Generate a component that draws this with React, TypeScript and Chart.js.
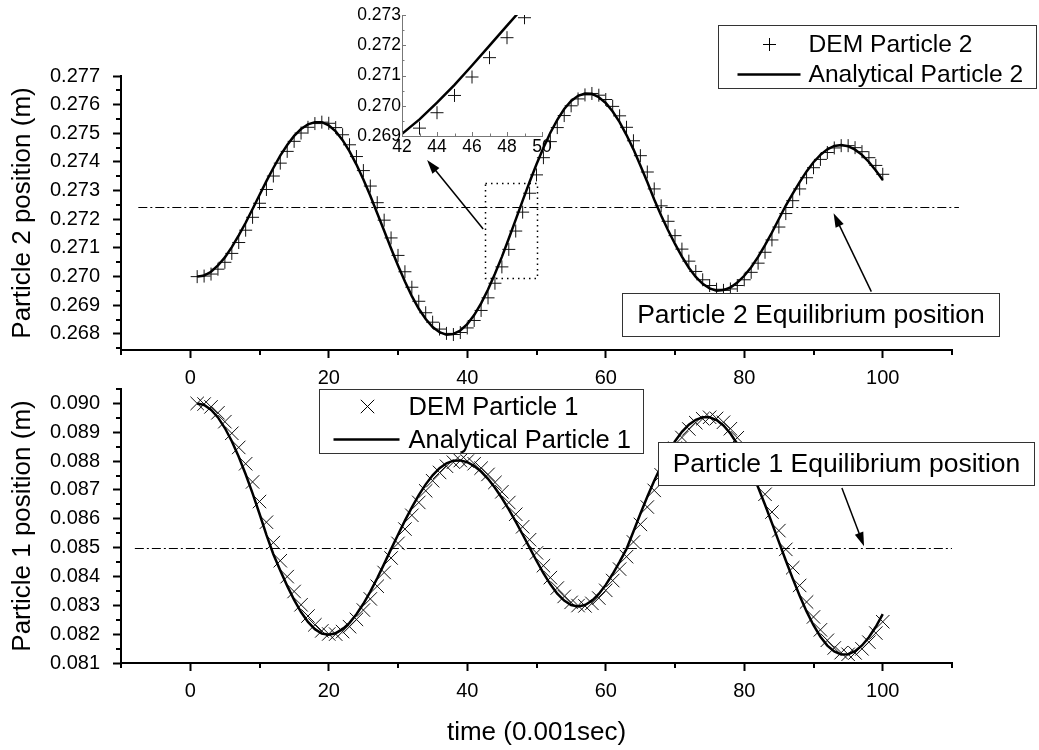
import React, { useEffect, useRef } from "react";
import { Chart, registerables } from "chart.js";

Chart.register(...registerables);

const FONT = "'Liberation Sans', Arial, Helvetica, sans-serif";

// ---------------- data ----------------
const time = [
  1, 2, 3, 4, 5, 6, 7, 8, 9, 10, 11, 12, 13, 14, 15, 16, 17, 18, 19, 20,
  21, 22, 23, 24, 25, 26, 27, 28, 29, 30, 31, 32, 33, 34, 35, 36, 37, 38, 39, 40,
  41, 42, 43, 44, 45, 46, 47, 48, 49, 50, 51, 52, 53, 54, 55, 56, 57, 58, 59, 60,
  61, 62, 63, 64, 65, 66, 67, 68, 69, 70, 71, 72, 73, 74, 75, 76, 77, 78, 79, 80,
  81, 82, 83, 84, 85, 86, 87, 88, 89, 90, 91, 92, 93, 94, 95, 96, 97, 98, 99, 100,
];

const p2Analytical = [
  0.27000, 0.27004, 0.27017, 0.27039, 0.27067, 0.27103, 0.27144, 0.27188, 0.27236, 0.27285,
  0.27333, 0.27379, 0.27422, 0.27459, 0.27491, 0.27515, 0.27531, 0.27539, 0.27539, 0.27528,
  0.27507, 0.27476, 0.27437, 0.27391, 0.27339, 0.27282, 0.27221, 0.27160, 0.27098, 0.27039,
  0.26983, 0.26932, 0.26888, 0.26852, 0.26824, 0.26806, 0.26797, 0.26800, 0.26812, 0.26834,
  0.26866, 0.26907, 0.26955, 0.27010, 0.27069, 0.27133, 0.27199, 0.27265, 0.27330, 0.27392,
  0.27450, 0.27502, 0.27547, 0.27585, 0.27613, 0.27631, 0.27639, 0.27638, 0.27626, 0.27606,
  0.27576, 0.27539, 0.27494, 0.27444, 0.27388, 0.27330, 0.27269, 0.27213, 0.27162, 0.27114,
  0.27070, 0.27031, 0.26999, 0.26975, 0.26959, 0.26951, 0.26953, 0.26962, 0.26979, 0.27003,
  0.27033, 0.27069, 0.27110, 0.27154, 0.27201, 0.27248, 0.27290, 0.27330, 0.27367, 0.27399,
  0.27425, 0.27444, 0.27456, 0.27459, 0.27455, 0.27443, 0.27425, 0.27400, 0.27370, 0.27337,
];

const p2DEM = [
  0.27000, 0.27002, 0.27009, 0.27026, 0.27050, 0.27081, 0.27119, 0.27162, 0.27207, 0.27256,
  0.27304, 0.27351, 0.27396, 0.27437, 0.27472, 0.27501, 0.27521, 0.27534, 0.27539, 0.27535,
  0.27520, 0.27495, 0.27460, 0.27419, 0.27370, 0.27316, 0.27258, 0.27197, 0.27135, 0.27074,
  0.27017, 0.26963, 0.26914, 0.26874, 0.26841, 0.26817, 0.26802, 0.26798, 0.26805, 0.26821,
  0.26847, 0.26882, 0.26926, 0.26977, 0.27034, 0.27095, 0.27159, 0.27225, 0.27291, 0.27355,
  0.27415, 0.27471, 0.27520, 0.27562, 0.27596, 0.27620, 0.27634, 0.27639, 0.27633, 0.27618,
  0.27594, 0.27561, 0.27521, 0.27474, 0.27422, 0.27365, 0.27306, 0.27247, 0.27193, 0.27143,
  0.27096, 0.27054, 0.27018, 0.26989, 0.26969, 0.26956, 0.26952, 0.26957, 0.26969, 0.26989,
  0.27015, 0.27047, 0.27085, 0.27128, 0.27173, 0.27220, 0.27265, 0.27306, 0.27345, 0.27380,
  0.27409, 0.27433, 0.27449, 0.27457, 0.27457, 0.27450, 0.27436, 0.27415, 0.27388, 0.27357,
];

const p1Analytical = [
  0.090000, 0.089945, 0.089782, 0.089514, 0.089147, 0.088689, 0.088151, 0.087543, 0.086880, 0.086174,
  0.085444, 0.084771, 0.084209, 0.083675, 0.083188, 0.082766, 0.082424, 0.082173, 0.082024, 0.081980,
  0.082033, 0.082172, 0.082393, 0.082690, 0.083054, 0.083475, 0.083940, 0.084436, 0.084948, 0.085449,
  0.085936, 0.086398, 0.086821, 0.087194, 0.087509, 0.087754, 0.087925, 0.088015, 0.088025, 0.087962,
  0.087833, 0.087639, 0.087386, 0.087077, 0.086721, 0.086327, 0.085901, 0.085456, 0.085000, 0.084546,
  0.084115, 0.083728, 0.083405, 0.083162, 0.083011, 0.082960, 0.083010, 0.083156, 0.083393, 0.083708,
  0.084086, 0.084509, 0.084955, 0.085560, 0.086172, 0.086762, 0.087319, 0.087831, 0.088290, 0.088687,
  0.089014, 0.089264, 0.089434, 0.089519, 0.089518, 0.089423, 0.089234, 0.088956, 0.088594, 0.088156,
  0.087651, 0.087092, 0.086487, 0.085851, 0.085198, 0.084553, 0.083927, 0.083333, 0.082788, 0.082310,
  0.081911, 0.081604, 0.081398, 0.081299, 0.081307, 0.081412, 0.081609, 0.081893, 0.082257, 0.082692,
];

const p1DEM = [
  0.090000, 0.089978, 0.089880, 0.089675, 0.089367, 0.088964, 0.088474, 0.087908, 0.087278, 0.086598,
  0.085882, 0.085175, 0.084546, 0.083995, 0.083480, 0.083019, 0.082629, 0.082324, 0.082113, 0.082006,
  0.082001, 0.082089, 0.082260, 0.082512, 0.082836, 0.083222, 0.083661, 0.084138, 0.084641, 0.085148,
  0.085644, 0.086121, 0.086567, 0.086970, 0.087320, 0.087607, 0.087822, 0.087961, 0.088019, 0.088000,
  0.087910, 0.087755, 0.087538, 0.087262, 0.086935, 0.086563, 0.086157, 0.085723, 0.085274, 0.084818,
  0.084374, 0.083960, 0.083599, 0.083308, 0.083102, 0.082991, 0.082980, 0.083068, 0.083251, 0.083519,
  0.083859, 0.084255, 0.084687, 0.085197, 0.085805, 0.086408, 0.086985, 0.087524, 0.088015, 0.088449,
  0.088818, 0.089114, 0.089332, 0.089468, 0.089519, 0.089480, 0.089347, 0.089123, 0.088811, 0.088419,
  0.087954, 0.087427, 0.086850, 0.086233, 0.085590, 0.084940, 0.084303, 0.083689, 0.083115, 0.082597,
  0.082150, 0.081788, 0.081522, 0.081358, 0.081302, 0.081349, 0.081491, 0.081723, 0.082039, 0.082431,
];

// equilibrium positions
const p2Equilibrium = 0.27244;
const p1Equilibrium = 0.085;

// ticks
const xTicks = [0, 20, 40, 60, 80, 100];
const xMinorTicks = [-10, 10, 30, 50, 70, 90, 110];
const p2YTicks = [0.268, 0.269, 0.27, 0.271, 0.272, 0.273, 0.274, 0.275, 0.276, 0.277];
const p2YMinorTicks = [0.2675, 0.2685, 0.2695, 0.2705, 0.2715, 0.2725, 0.2735, 0.2745, 0.2755, 0.2765];
const p1YTicks = [0.081, 0.082, 0.083, 0.084, 0.085, 0.086, 0.087, 0.088, 0.089, 0.09];
const p1YMinorTicks = [0.0815, 0.0825, 0.0835, 0.0845, 0.0855, 0.0865, 0.0875, 0.0885, 0.0895, 0.0905];
const insetXTicks = [42, 44, 46, 48, 50];
const insetXMinorTicks = [43, 45, 47, 49];
const insetYTicks = [0.269, 0.27, 0.271, 0.272, 0.273];
const insetYMinorTicks = [0.2695, 0.2705, 0.2715, 0.2725];

// ---------------- helpers ----------------
type Pt = { x: number; y: number };
const pts = (xs: number[], ys: number[]): Pt[] => xs.map((x, i) => ({ x, y: ys[i] }));

function drawArrow(ctx: CanvasRenderingContext2D, x0: number, y0: number, x1: number, y1: number) {
  const a = Math.atan2(y1 - y0, x1 - x0);
  const L = 14;
  const W = 4.5;
  ctx.beginPath();
  ctx.moveTo(x0, y0);
  ctx.lineTo(x1 - (L - 2) * Math.cos(a), y1 - (L - 2) * Math.sin(a));
  ctx.stroke();
  ctx.beginPath();
  ctx.moveTo(x1, y1);
  ctx.lineTo(x1 - L * Math.cos(a) + W * Math.sin(a), y1 - L * Math.sin(a) - W * Math.cos(a));
  ctx.lineTo(x1 - L * Math.cos(a) - W * Math.sin(a), y1 - L * Math.sin(a) + W * Math.cos(a));
  ctx.closePath();
  ctx.fill();
}

function drawSymbol(ctx: CanvasRenderingContext2D, kind: string, cx: number, cy: number, r: number) {
  ctx.beginPath();
  if (kind === "cross") {
    ctx.moveTo(cx - r, cy);
    ctx.lineTo(cx + r, cy);
    ctx.moveTo(cx, cy - r);
    ctx.lineTo(cx, cy + r);
  } else {
    const d = r * Math.SQRT1_2;
    ctx.moveTo(cx - d, cy - d);
    ctx.lineTo(cx + d, cy + d);
    ctx.moveTo(cx - d, cy + d);
    ctx.lineTo(cx + d, cy - d);
  }
  ctx.stroke();
}

type Deco = {
  xMinor: number[];
  yMinor: number[];
  minorLen: number;
  minorWidth: number;
  minorColor: string;
  inward?: boolean;
  majorInward?: { x: number[]; y: number[]; len: number };
  eq?: { value: number; from: number; to: number };
  rects?: { x0: number; x1: number; y0: number; y1: number }[];
  arrows?: { x0: number; y0: number; x1: number; y1: number }[];
  boxes?: { x0: number; x1: number; y0: number; y1: number; text: string; size: number }[];
  legend?: {
    x0: number; x1: number; y0: number; y1: number; size: number; symbol: string; r: number;
    symX: number; lineX0: number; lineX1: number; textX: number; row1: number; row2: number;
    labels: string[];
  };
};

function decoPlugin(d: Deco) {
  return {
    id: "deco",
    afterDatasetsDraw(chart: any) {
      const { ctx, chartArea } = chart;
      const xs = chart.scales.x;
      const ys = chart.scales.y;
      const X = (v: number) => xs.getPixelForValue(v);
      const Y = (v: number) => ys.getPixelForValue(v);
      ctx.save();
      // minor ticks
      ctx.strokeStyle = d.minorColor;
      ctx.lineWidth = d.minorWidth;
      ctx.setLineDash([]);
      ctx.beginPath();
      d.xMinor.forEach((v) => {
        const p = Math.round(X(v));
        if (d.inward) {
          ctx.moveTo(p + 0.5, chartArea.bottom);
          ctx.lineTo(p + 0.5, chartArea.bottom - d.minorLen);
        } else {
          ctx.moveTo(p, chartArea.bottom);
          ctx.lineTo(p, chartArea.bottom + d.minorLen);
        }
      });
      d.yMinor.forEach((v) => {
        const p = Math.round(Y(v));
        if (d.inward) {
          ctx.moveTo(chartArea.left, p + 0.5);
          ctx.lineTo(chartArea.left + d.minorLen, p + 0.5);
        } else {
          ctx.moveTo(chartArea.left, p);
          ctx.lineTo(chartArea.left - d.minorLen, p);
        }
      });
      if (d.majorInward) {
        const m = d.majorInward;
        m.x.forEach((v) => {
          const p = Math.round(X(v));
          ctx.moveTo(p + 0.5, chartArea.bottom);
          ctx.lineTo(p + 0.5, chartArea.bottom - m.len);
        });
        m.y.forEach((v) => {
          const p = Math.round(Y(v));
          ctx.moveTo(chartArea.left, p + 0.5);
          ctx.lineTo(chartArea.left + m.len, p + 0.5);
        });
      }
      ctx.stroke();

      ctx.strokeStyle = "#000";
      ctx.fillStyle = "#000";
      // equilibrium line
      if (d.eq) {
        ctx.lineWidth = 1;
        ctx.setLineDash([9, 3, 2, 3]);
        const py = Math.round(Y(d.eq.value)) + 0.5;
        ctx.beginPath();
        ctx.moveTo(X(d.eq.from), py);
        ctx.lineTo(X(d.eq.to), py);
        ctx.stroke();
      }
      // dotted rectangles
      (d.rects || []).forEach((r) => {
        ctx.lineWidth = 1.5;
        ctx.setLineDash([1.5, 4]);
        const x0 = Math.round(X(r.x0)) + 0.5;
        const x1 = Math.round(X(r.x1)) + 0.5;
        const y0 = Math.round(Y(r.y1)) + 0.5;
        const y1 = Math.round(Y(r.y0)) + 0.5;
        ctx.strokeRect(x0, y0, x1 - x0, y1 - y0);
      });
      ctx.setLineDash([]);
      // arrows
      (d.arrows || []).forEach((a) => {
        ctx.lineWidth = 1.5;
        drawArrow(ctx, X(a.x0), Y(a.y0), X(a.x1), Y(a.y1));
      });
      // text boxes
      (d.boxes || []).forEach((b) => {
        const x0 = Math.round(X(b.x0)) + 0.5;
        const x1 = Math.round(X(b.x1)) + 0.5;
        const y0 = Math.round(Y(b.y0)) + 0.5;
        const y1 = Math.round(Y(b.y1)) + 0.5;
        ctx.fillStyle = "#fff";
        ctx.fillRect(x0, y0, x1 - x0, y1 - y0);
        ctx.strokeStyle = "#333";
        ctx.lineWidth = 1;
        ctx.strokeRect(x0, y0, x1 - x0, y1 - y0);
        ctx.fillStyle = "#000";
        ctx.font = `${b.size}px ${FONT}`;
        ctx.textAlign = "center";
        ctx.textBaseline = "middle";
        ctx.fillText(b.text, (x0 + x1) / 2, (y0 + y1) / 2 + 1);
      });
      // legend
      if (d.legend) {
        const l = d.legend;
        const x0 = Math.round(X(l.x0)) + 0.5;
        const x1 = Math.round(X(l.x1)) + 0.5;
        const y0 = Math.round(Y(l.y0)) + 0.5;
        const y1 = Math.round(Y(l.y1)) + 0.5;
        ctx.fillStyle = "#fff";
        ctx.fillRect(x0, y0, x1 - x0, y1 - y0);
        ctx.strokeStyle = "#333";
        ctx.lineWidth = 1;
        ctx.strokeRect(x0, y0, x1 - x0, y1 - y0);
        ctx.strokeStyle = "#000";
        ctx.lineWidth = 1;
        drawSymbol(ctx, l.symbol, x0 + l.symX, y0 + l.row1, l.r);
        ctx.lineWidth = 2.5;
        ctx.beginPath();
        ctx.moveTo(x0 + l.lineX0, y0 + l.row2);
        ctx.lineTo(x0 + l.lineX1, y0 + l.row2);
        ctx.stroke();
        ctx.fillStyle = "#000";
        ctx.font = `${l.size}px ${FONT}`;
        ctx.textAlign = "left";
        ctx.textBaseline = "middle";
        ctx.fillText(l.labels[0], x0 + l.textX, y0 + l.row1 + 1);
        ctx.fillText(l.labels[1], x0 + l.textX, y0 + l.row2 + 1);
      }
      ctx.restore();
    },
  };
}

function mainScales(opts: {
  yMin: number; yMax: number; yTicks: number[]; yTitle: string;
  xHeight: number; xTitle?: string;
}) {
  return {
    x: {
      type: "linear",
      min: -10,
      max: 110,
      afterBuildTicks: (s: any) => { s.ticks = xTicks.map((v) => ({ value: v })); },
      afterFit: (s: any) => { s.height = opts.xHeight; },
      grid: { display: true, drawOnChartArea: false, drawTicks: true, tickLength: 8, tickWidth: 2, tickColor: "#000" },
      border: { display: true, color: "#000", width: 2 },
      ticks: { color: "#000", font: { family: FONT, size: 20 }, padding: 8, maxRotation: 0, autoSkip: false,
        callback: (v: any) => String(v) },
      title: opts.xTitle
        ? { display: true, text: opts.xTitle, color: "#000", font: { family: FONT, size: 26 }, padding: { top: 0, bottom: 2 } }
        : { display: false },
    },
    y: {
      type: "linear",
      min: opts.yMin,
      max: opts.yMax,
      afterBuildTicks: (s: any) => { s.ticks = opts.yTicks.map((v) => ({ value: v })); },
      afterFit: (s: any) => { s.width = 121; },
      grid: { display: true, drawOnChartArea: false, drawTicks: true, tickLength: 8, tickWidth: 2, tickColor: "#000" },
      border: { display: true, color: "#000", width: 2 },
      ticks: { color: "#000", font: { family: FONT, size: 20 }, padding: 13, autoSkip: false,
        callback: (v: any) => Number(v).toFixed(3) },
      title: { display: true, text: opts.yTitle, color: "#000", font: { family: FONT, size: 26 }, padding: { top: 7, bottom: 0 } },
    },
  };
}

const commonOpts = {
  animation: false,
  responsive: false,
  devicePixelRatio: 1,
  events: [],
};

export default function App() {
  const topRef = useRef<HTMLCanvasElement>(null);
  const botRef = useRef<HTMLCanvasElement>(null);
  const insetRef = useRef<HTMLCanvasElement>(null);

  useEffect(() => {
    const charts: Chart[] = [];

    // ---- top panel: particle 2 ----
    charts.push(
      new Chart(topRef.current!, {
        type: "line",
        data: {
          datasets: [
            {
              label: "Analytical Particle 2",
              data: pts(time, p2Analytical),
              borderColor: "#000",
              borderWidth: 2.5,
              pointRadius: 0,
              tension: 0,
              fill: false,
            },
            {
              label: "DEM Particle 2",
              data: pts(time, p2DEM),
              showLine: false,
              pointStyle: "cross",
              pointRadius: 6.5,
              pointBorderWidth: 1,
              pointBorderColor: "#111",
              pointBackgroundColor: "rgba(0,0,0,0)",
            },
          ],
        },
        options: {
          ...commonOpts,
          layout: { padding: { left: 0, right: 87, top: 76, bottom: 360 } },
          plugins: { legend: { display: false }, tooltip: { enabled: false } },
          scales: mainScales({
            yMin: 0.26744, yMax: 0.277, yTicks: p2YTicks, yTitle: "Particle 2 position (m)", xHeight: 40,
          }),
        } as any,
        plugins: [
          decoPlugin({
            xMinor: xMinorTicks,
            yMinor: p2YMinorTicks,
            minorLen: 5,
            minorWidth: 2,
            minorColor: "#000",
            eq: { value: p2Equilibrium, from: -7.5, to: 111 },
            rects: [{ x0: 42.5, x1: 50, y0: 0.26995, y1: 0.27327 }],
            arrows: [
              { x0: 98.35, y0: 0.269476, x1: 92.9, y1: 0.27221 },
              { x0: 42.3, y0: 0.271663, x1: 34.2, y1: 0.27407 },
            ],
            boxes: [
              { x0: 62.28, x1: 116.83, y0: 0.26943, y1: 0.26793, text: "Particle 2 Equilibrium position", size: 26.5 },
            ],
            legend: {
              x0: 76.28, x1: 122.16, y0: 0.278779, y1: 0.276581, size: 24.6, symbol: "cross", r: 6.5,
              symX: 51, lineX0: 19, lineX1: 82, textX: 90, row1: 19, row2: 49,
              labels: ["DEM Particle 2", "Analytical Particle 2"],
            },
          }) as any,
        ],
      })
    );

    // ---- bottom panel: particle 1 ----
    charts.push(
      new Chart(botRef.current!, {
        type: "line",
        data: {
          datasets: [
            {
              label: "Analytical Particle 1",
              data: pts(time, p1Analytical),
              borderColor: "#000",
              borderWidth: 2.5,
              pointRadius: 0,
              tension: 0,
              fill: false,
            },
            {
              label: "DEM Particle 1",
              data: pts(time, p1DEM),
              showLine: false,
              pointStyle: "crossRot",
              pointRadius: 9.5,
              pointBorderWidth: 1,
              pointBorderColor: "#111",
              pointBackgroundColor: "rgba(0,0,0,0)",
            },
          ],
        },
        options: {
          ...commonOpts,
          layout: { padding: { left: 0, right: 87, top: 389, bottom: 0 } },
          plugins: { legend: { display: false }, tooltip: { enabled: false } },
          scales: mainScales({
            yMin: 0.081, yMax: 0.0905, yTicks: p1YTicks, yTitle: "Particle 1 position (m)", xHeight: 87,
            xTitle: "time (0.001sec)",
          }),
        } as any,
        plugins: [
          decoPlugin({
            xMinor: xMinorTicks,
            yMinor: p1YMinorTicks,
            minorLen: 5,
            minorWidth: 2,
            minorColor: "#000",
            eq: { value: p1Equilibrium, from: -8, to: 110 },
            arrows: [{ x0: 94.1, y0: 0.087068, x1: 97.3, y1: 0.08505 }],
            boxes: [
              { x0: 67.48, x1: 121.88, y0: 0.088673, y1: 0.087182, text: "Particle 1 Equilibrium position", size: 26.5 },
            ],
            legend: {
              x0: 18.56, x1: 65.45, y0: 0.0905, y1: 0.088292, size: 25.5, symbol: "crossRot", r: 9.5,
              symX: 48, lineX0: 14, lineX1: 80, textX: 89, row1: 17, row2: 50,
              labels: ["DEM Particle 1", "Analytical Particle 1"],
            },
          }) as any,
        ],
      })
    );

    // ---- inset (zoom of particle 2, t = 42..50) ----
    const inIdx = time.map((t, i) => i).filter((i) => time[i] >= 42 && time[i] <= 50);
    const insetTime = inIdx.map((i) => time[i]);
    charts.push(
      new Chart(insetRef.current!, {
        type: "line",
        data: {
          datasets: [
            {
              label: "Analytical Particle 2",
              data: pts(insetTime, inIdx.map((i) => p2Analytical[i])),
              borderColor: "#000",
              borderWidth: 2.5,
              pointRadius: 0,
              tension: 0,
              fill: false,
            },
            {
              label: "DEM Particle 2",
              data: pts(insetTime, inIdx.map((i) => p2DEM[i])),
              showLine: false,
              pointStyle: "cross",
              pointRadius: 6.5,
              pointBorderWidth: 1,
              pointBorderColor: "#111",
              pointBackgroundColor: "rgba(0,0,0,0)",
            },
          ],
        },
        options: {
          ...commonOpts,
          layout: { padding: { left: 0, right: 18, top: 15, bottom: 0 } },
          plugins: { legend: { display: false }, tooltip: { enabled: false } },
          scales: {
            x: {
              type: "linear",
              min: 42,
              max: 50,
              afterBuildTicks: (s: any) => { s.ticks = insetXTicks.map((v) => ({ value: v })); },
              afterFit: (s: any) => { s.height = 39; },
              grid: { display: false, drawTicks: false },
              border: { display: true, color: "#777", width: 1 },
              ticks: { color: "#000", font: { family: FONT, size: 17.5 }, padding: 1, maxRotation: 0, autoSkip: false },
            },
            y: {
              type: "linear",
              min: 0.269,
              max: 0.273,
              afterBuildTicks: (s: any) => { s.ticks = insetYTicks.map((v) => ({ value: v })); },
              afterFit: (s: any) => { s.width = 72; },
              grid: { display: false, drawTicks: false },
              border: { display: true, color: "#777", width: 1 },
              ticks: { color: "#000", font: { family: FONT, size: 17.5 }, padding: 1, autoSkip: false,
                callback: (v: any) => Number(v).toFixed(3) },
            },
          },
        } as any,
        plugins: [
          decoPlugin({
            xMinor: insetXMinorTicks,
            yMinor: insetYMinorTicks,
            minorLen: 2.5,
            minorWidth: 1,
            minorColor: "#777",
            inward: true,
            majorInward: { x: insetXTicks, y: insetYTicks, len: 4 },
          }) as any,
        ],
      })
    );

    return () => charts.forEach((c) => c.destroy());
  }, []);

  const abs: React.CSSProperties = { position: "absolute", left: 0, top: 0 };
  return (
    <div style={{ position: "fixed", left: 0, top: 0, width: 1039, height: 750, background: "#fff", overflow: "hidden" }}>
      <canvas ref={botRef} width={1039} height={750} style={{ ...abs, width: 1039, height: 750 }} />
      <canvas ref={topRef} width={1039} height={750} style={{ ...abs, width: 1039, height: 750 }} />
      <canvas ref={insetRef} width={230} height={175} style={{ ...abs, left: 330, width: 230, height: 175 }} />
    </div>
  );
}
